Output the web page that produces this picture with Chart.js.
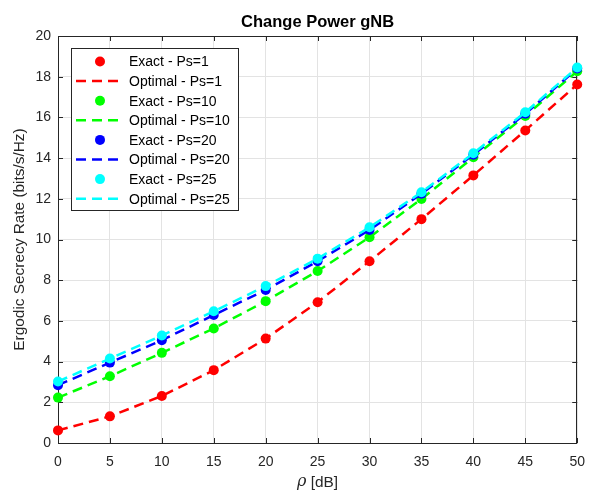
<!DOCTYPE html>
<html>
<head>
<meta charset="utf-8">
<script src="https://cdn.jsdelivr.net/npm/chart.js@4.4.0/dist/chart.umd.min.js"></script>
<style>
    html, body { margin: 0; padding: 0; background: #fff; }
</style>
</head>
<body>
<canvas id="chart" width="596" height="492"></canvas>
<script>
// x axis: rho [dB]
const rho = [0, 5, 10, 15, 20, 25, 30, 35, 40, 45, 50];

// ergodic secrecy rate
const ratePs1 = [0.62, 1.31, 2.31, 3.58, 5.13, 6.92, 8.93, 11.0, 13.15, 15.36, 17.62];
const ratePs10 = [2.23, 3.28, 4.43, 5.63, 6.97, 8.45, 10.11, 11.99, 14.04, 16.07, 18.27];
const ratePs20 = [2.84, 3.95, 5.05, 6.29, 7.52, 8.93, 10.47, 12.25, 14.17, 16.18, 18.4];
const ratePs25 = [3.02, 4.15, 5.28, 6.47, 7.71, 9.06, 10.6, 12.32, 14.24, 16.25, 18.45];

const powers = ["1", "10", "20", "25"];
const rates = [ratePs1, ratePs10, ratePs20, ratePs25];
const colors = ["#ff0000", "#00ff00", "#0000ff", "#00ffff"];

const FONT = "'Liberation Sans', Arial, Helvetica, sans-serif";
const INK = "#262626";
const DASH = [10, 6];

const toPoints = (ys) => rho.map((x, i) => ({ x, y: ys[i] }));

const datasets = [];
powers.forEach((ps, k) => {
    datasets.push({
        label: `Exact - Ps=${ps}`,
        data: toPoints(rates[k]),
        showLine: false,
        pointRadius: 5,
        pointBackgroundColor: colors[k],
        pointBorderColor: colors[k],
        pointBorderWidth: 0,
        borderColor: colors[k],
        backgroundColor: colors[k],
    });
    datasets.push({
        label: `Optimal - Ps=${ps}`,
        data: toPoints(rates[k]),
        showLine: true,
        pointRadius: 0,
        borderColor: colors[k],
        borderWidth: 2.5,
        borderDash: DASH,
        fill: false,
    });
});
// later series drawn on top, like the original plot
datasets.forEach((ds, i) => {
    ds.order = datasets.length - i;
    ds.clip = false;
});

// box + inward tick marks + title + x label
const framePlugin = {
    id: "frame",
    beforeDatasetsDraw(chart) {
        const { ctx, chartArea: a, scales } = chart;
        ctx.save();
        ctx.strokeStyle = INK;
        ctx.lineWidth = 1;
        const tl = 5;
        ctx.beginPath();
        scales.x.ticks.forEach((t) => {
            const px = Math.round(scales.x.getPixelForValue(t.value)) + 0.5;
            ctx.moveTo(px, a.bottom);
            ctx.lineTo(px, a.bottom - tl);
            ctx.moveTo(px, a.top);
            ctx.lineTo(px, a.top + tl);
        });
        scales.y.ticks.forEach((t) => {
            const py = Math.round(scales.y.getPixelForValue(t.value)) + 0.5;
            ctx.moveTo(a.left, py);
            ctx.lineTo(a.left + tl, py);
            ctx.moveTo(a.right, py);
            ctx.lineTo(a.right - tl, py);
        });
        ctx.stroke();
        ctx.strokeRect(Math.round(a.left) + 0.5, Math.round(a.top) + 0.5,
            Math.round(a.right - a.left) - 1, Math.round(a.bottom - a.top));

        const cx = (a.left + a.right) / 2;
        ctx.fillStyle = "#000";
        ctx.font = `bold 16.5px ${FONT}`;
        ctx.textAlign = "center";
        ctx.textBaseline = "middle";
        ctx.fillText("Change Power gNB", cx, 22);

        // x label: italic rho followed by [dB]
        const rhoFont = `italic 16px 'DejaVu Serif', 'Liberation Serif', serif`;
        const unitFont = `15.4px ${FONT}`;
        ctx.font = rhoFont;
        const w1 = ctx.measureText("ρ").width;
        ctx.font = unitFont;
        const w2 = ctx.measureText(" [dB]").width;
        const x0 = cx - (w1 + w2) / 2;
        ctx.textAlign = "left";
        ctx.fillStyle = INK;
        ctx.font = rhoFont;
        ctx.fillText("ρ", x0, 482);
        ctx.font = unitFont;
        ctx.fillText(" [dB]", x0 + w1, 483);
        ctx.restore();
    },
};

// MATLAB-style legend in the upper left corner
const legendPlugin = {
    id: "boxLegend",
    afterDatasetsDraw(chart) {
        const { ctx, chartArea: a } = chart;
        const left = a.left + 13;
        const top = a.top + 12;
        const w = 167;
        const h = 162;
        const rowH = 19.6;
        ctx.save();
        ctx.fillStyle = "#fff";
        ctx.fillRect(left, top, w, h);
        ctx.strokeStyle = INK;
        ctx.lineWidth = 1;
        ctx.strokeRect(Math.round(left) + 0.5, Math.round(top) + 0.5, w, h);
        ctx.font = `14px ${FONT}`;
        ctx.textBaseline = "middle";
        ctx.textAlign = "left";
        chart.data.datasets.forEach((ds, i) => {
            const cy = top + 13.5 + i * rowH;
            if (ds.showLine === false) {
                ctx.fillStyle = ds.pointBackgroundColor;
                ctx.beginPath();
                ctx.arc(left + 29, cy, 5, 0, Math.PI * 2);
                ctx.fill();
            } else {
                ctx.strokeStyle = ds.borderColor;
                ctx.lineWidth = 2.5;
                ctx.setLineDash(ds.borderDash);
                ctx.beginPath();
                ctx.moveTo(left + 5, cy);
                ctx.lineTo(left + 53, cy);
                ctx.stroke();
                ctx.setLineDash([]);
            }
            ctx.fillStyle = "#000";
            ctx.fillText(ds.label, left + 58, cy + 1);
        });
        ctx.restore();
    },
};

new Chart(document.getElementById("chart").getContext("2d"), {
    type: "scatter",
    data: { datasets },
    options: {
        responsive: false,
        animation: false,
        layout: { padding: { left: 0, right: 9, top: 36, bottom: 0 } },
        elements: { line: { tension: 0 } },
        plugins: {
            legend: { display: false },
            title: { display: false },
            tooltip: { enabled: false },
        },
        scales: {
            x: {
                type: "linear",
                min: 0,
                max: 50,
                ticks: { stepSize: 5, color: INK, padding: 11, font: { family: FONT, size: 14 } },
                grid: { color: "#e3e3e3", drawTicks: false },
                border: { display: false },
                afterFit: (scale) => { scale.height = 49; },
            },
            y: {
                type: "linear",
                min: 0,
                max: 20,
                ticks: { stepSize: 2, color: INK, padding: 7, font: { family: FONT, size: 14 } },
                grid: { color: "#e3e3e3", drawTicks: false },
                border: { display: false },
                title: { display: true, text: "Ergodic Secrecy Rate (bits/s/Hz)", color: INK, padding: { top: 11, bottom: 0 }, font: { family: FONT, size: 15.4 } },
                afterFit: (scale) => { scale.width = 58; },
            },
        },
    },
    plugins: [framePlugin, legendPlugin],
});
</script>
</body>
</html>
